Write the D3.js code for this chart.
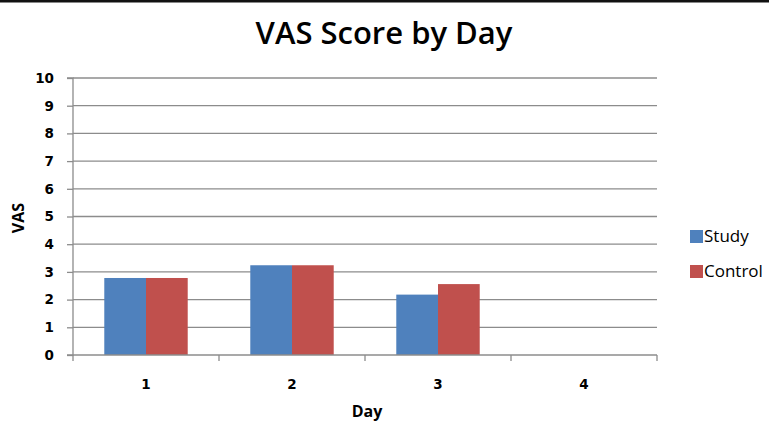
<!DOCTYPE html>
<html>
<head>
<meta charset="utf-8">
<script src="https://cdn.jsdelivr.net/npm/d3@7"></script>
<style>
  html, body { margin: 0; padding: 0; background: #fff; }
  svg { display: block; }
  text { font-family: "Open Sans", "DejaVu Sans", sans-serif; fill: #000; }
  .tick text { font-family: "DejaVu Sans", sans-serif; font-size: 13.5px; font-weight: 700; }
</style>
</head>
<body>
<svg id="chart" width="769" height="423"></svg>
<script>
const days = ["1", "2", "3", "4"];
const seriesNames = ["Study", "Control"];
const study = [2.78, 3.24, 2.18, 0];
const control = [2.78, 3.24, 2.56, 0];
const yTicks = [0, 1, 2, 3, 4, 5, 6, 7, 8, 9, 10];
const colors = ["#4F81BD", "#C0504D"];

const svg = d3.select("#chart");
const W = 769, H = 423;
const m = { left: 73, right: 112, top: 78, bottom: 68 };
const plotW = W - m.left - m.right;
const plotH = H - m.top - m.bottom;

// top border
svg.append("rect").attr("x", 0).attr("y", 0).attr("width", W).attr("height", 2.5).attr("fill", "#111");

const g = svg.append("g").attr("transform", `translate(${m.left},${m.top})`);

const x = d3.scaleBand().domain(days).range([0, plotW]).paddingInner(0).paddingOuter(0);
const x1 = d3.scaleBand().domain(seriesNames).range([0, x.bandwidth()]).paddingOuter(0.75).paddingInner(0);
const y = d3.scaleLinear().domain([0, 10]).range([plotH, 0]);

// gridlines
g.append("g").selectAll("line").data(yTicks.filter(d => d > 0)).join("line")
  .attr("x1", 0).attr("x2", plotW)
  .attr("y1", d => y(d)).attr("y2", d => y(d))
  .attr("stroke", "#8c8c8c").attr("stroke-width", 1.3);

// bars
const data = days.map((d, i) => ({ day: d, vals: [study[i], control[i]] }));
const grp = g.append("g").selectAll("g").data(data).join("g")
  .attr("transform", d => `translate(${x(d.day)},0)`);
grp.selectAll("rect").data(d => d.vals.map((v, j) => ({ s: seriesNames[j], v, j })).filter(e => e.v > 0))
  .join("rect")
  .attr("x", d => x1(d.s))
  .attr("width", x1.bandwidth())
  .attr("y", d => y(d.v))
  .attr("height", d => y(0) - y(d.v))
  .attr("fill", d => colors[d.j]);

// y axis
const yAxis = d3.axisLeft(y).tickValues(yTicks).tickSize(6).tickPadding(13).tickFormat(d3.format("d"));
const ya = g.append("g").call(yAxis);
ya.attr("font-size", null).attr("font-family", null);
ya.select(".domain").attr("stroke", "#8c8c8c").attr("stroke-width", 1.3).attr("d", `M-6,0H0V${plotH}H-6`);
ya.selectAll(".tick line").attr("stroke", "#8c8c8c").attr("stroke-width", 1.3);
ya.selectAll(".tick text").attr("fill", "#000");

// x axis
const xa = g.append("g").attr("transform", `translate(0,${plotH})`)
  .call(d3.axisBottom(x).tickSize(0).tickPadding(24));
xa.attr("font-size", null).attr("font-family", null);
xa.select(".domain").remove();
xa.append("line").attr("x1", 0).attr("x2", plotW).attr("y1", 0).attr("y2", 0)
  .attr("stroke", "#8c8c8c").attr("stroke-width", 1.3);
xa.selectAll(".bnd").data(days.map(d => x(d) + x.bandwidth()).concat([0])).join("line")
  .attr("class", "bnd")
  .attr("x1", d => d).attr("x2", d => d).attr("y1", 0).attr("y2", 6)
  .attr("stroke", "#8c8c8c").attr("stroke-width", 1.3);
xa.selectAll(".tick text").attr("fill", "#000");

// title
svg.append("text").attr("x", 384).attr("y", 44).attr("text-anchor", "middle")
  .style("font-size", "31px").style("font-weight", "600").text("VAS Score by Day");

// axis titles
svg.append("text").attr("x", 367).attr("y", 417).attr("text-anchor", "middle")
  .style("font-size", "16px").style("font-weight", "700").text("Day");
svg.append("text").attr("transform", "translate(24,218) rotate(-90)").attr("text-anchor", "middle")
  .style("font-size", "16px").style("font-weight", "700").text("VAS");

// legend
const lg = svg.append("g").attr("transform", "translate(690,230)");
seriesNames.forEach((s, i) => {
  lg.append("rect").attr("x", 0).attr("y", i * 35).attr("width", 13).attr("height", 13).attr("fill", colors[i]);
  lg.append("text").attr("x", 14).attr("y", i * 35 + 12).style("font-size", "17px").style("font-weight", "400").text(s);
});
</script>
</body>
</html>
